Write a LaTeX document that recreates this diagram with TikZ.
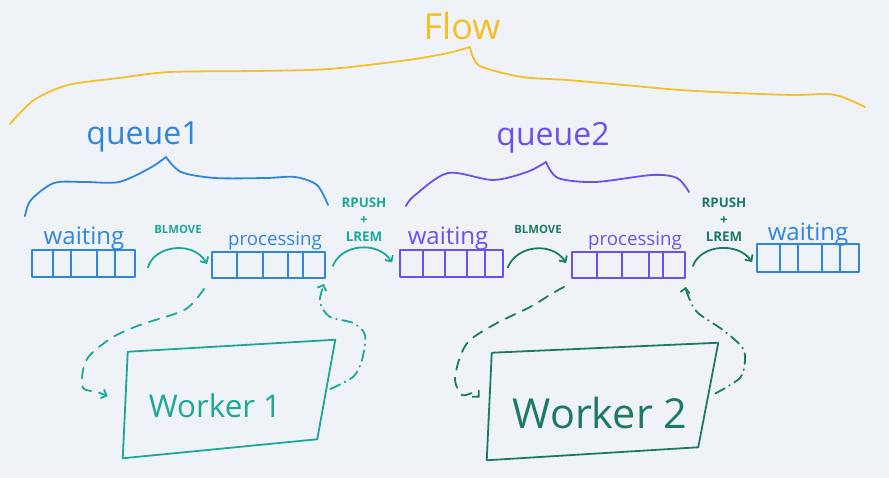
\documentclass[tikz,border=0pt]{standalone}
\usepackage{fontspec}
\setmainfont{Open Sans}
\usetikzlibrary{arrows.meta,calc,fit}
\definecolor{bg}{HTML}{EFF3F7}
\definecolor{flowyellow}{HTML}{F5BF2A}
\definecolor{qblue}{HTML}{2E86DE}
\definecolor{qpurple}{HTML}{6A50EE}
\definecolor{wteal}{HTML}{1CA896}
\definecolor{wgreen}{HTML}{1D7A62}
\tikzset{
  hand/.style={line width=1.35pt},
  qbox/.style={draw, line width=1.35pt, inner sep=0pt},
  arr/.style={line width=1.35pt, -{Straight Barb[length=3.5pt,width=7pt]}},
  dasharr/.style={arr, dash pattern=on 8pt off 6pt},
  dotdasharr/.style={arr, dash pattern=on 8pt off 4pt on 0.6pt off 4pt},
  cmd/.style={font=\fontsize{8.5}{10}\selectfont\bfseries, inner sep=0pt},
  cmd2/.style={font=\fontsize{10}{12.75}\selectfont\bfseries, align=center, inner sep=0pt},
  boxlbl/.style={font=\fontsize{18}{20}\selectfont, inner sep=0pt},
  proclbl/.style={font=\fontsize{14}{16}\selectfont, inner sep=0pt},
  qlbl/.style={font=\fontsize{24}{26}\selectfont, inner sep=0pt},
}
\begin{document}
\begin{tikzpicture}[x=0.75pt, y=-0.75pt, line cap=round, line join=round]
\fill[bg] (0,0) rectangle (889,478);
\useasboundingbox (0,0) rectangle (889,478);

% ---- Flow brace ----
\node[text=flowyellow, font=\fontsize{27}{30}\selectfont, inner sep=0pt] (flow) at (462,26) {Flow};
\draw[flowyellow, hand] plot[smooth] coordinates {(10,124) (34,100) (68,85) (119,78) (170,72) (255,71) (329,69) (408,60) (448,53) (470,47)};
\draw[flowyellow, hand] plot[smooth] coordinates {(470,47) (473,57) (482,67) (522,77) (567,80) (624,85) (680,90) (737,93) (794,95) (828,94) (845,98) (865,107)};

% ---- queue1 brace ----
\node[qlbl, text=qblue] (q1) at (143,137) {queue1};
\draw[qblue, hand] plot[smooth] coordinates {(25,216) (31,200) (54,183) (85,182) (119,182) (150,168) (166,157)};
\draw[qblue, hand] plot[smooth] coordinates {(166,157) (181,172) (215,178) (266,178) (295,177) (317,185) (328,205)};

% ---- queue2 brace ----
\node[qlbl, text=qpurple] (q2) at (553,138) {queue2};
\draw[qpurple, hand] plot[smooth] coordinates {(406,206) (414,196) (448,173) (493,180) (527,172) (546,162)};
\draw[qpurple, hand] plot[smooth] coordinates {(546,162) (558,178) (595,182) (652,175) (677,178) (689,192)};

% ---- queue boxes ----
\node[qbox, draw=qblue, fit={(32,250)(135,277)}] (w1) {};
\foreach \x in {53,71,97,115} \draw[qblue, hand] (\x,250) -- (\x,277);
\node[boxlbl, text=qblue] (w1t) at (84,239) {waiting};

\node[qbox, draw=qblue, fit={(212,252)(325,278)}] (p1) {};
\foreach \x in {237,263,288,303} \draw[qblue, hand] (\x,252) -- (\x,278);
\node[proclbl, text=qblue] (p1t) at (275,241) {processing};

\node[qbox, draw=qpurple, fit={(400,250)(503,277)}] (w2) {};
\foreach \x in {423,445,467,485} \draw[qpurple, hand] (\x,250) -- (\x,277);
\node[boxlbl, text=qpurple] (w2t) at (448,239) {waiting};

\node[qbox, draw=qpurple, fit={(572,252)(685,278)}] (p2) {};
\foreach \x in {597,622,649,663} \draw[qpurple, hand] (\x,252) -- (\x,278);
\node[proclbl, text=qpurple] (p2t) at (635,241) {processing};

\node[qbox, draw=qblue, fit={(757,244)(859,272)}] (w3) {};
\foreach \x in {780,798,822,840} \draw[qblue, hand] (\x,244) -- (\x,272);
\node[boxlbl, text=qblue] (w3t) at (808,235) {waiting};

% ---- command arrows ----
\node[cmd, text=wteal] (bl1) at (178,229) {BLMOVE};
\draw[arr, wteal] ($(w1.east)+(12,4)$) .. controls +(6,-22) and +(-14,-24) .. ($(p1.west)+(-4,-1)$);
\node[cmd2, text=wteal] (rp1) at (364,220) {RPUSH\\+\\LREM};
\draw[arr, wteal] ($(p1.east)+(7,1)$) .. controls +(8,-22) and +(-14,-22) .. ($(w2.west)+(-7,-1)$);

\node[cmd, text=wgreen] (bl2) at (538,229) {BLMOVE};
\draw[arr, wgreen] ($(w2.east)+(4,4)$) .. controls +(8,-22) and +(-14,-22) .. ($(p2.west)+(-5,-2)$);
\node[cmd2, text=wgreen] (rp2) at (724,220) {RPUSH\\+\\LREM};
\draw[arr, wgreen] ($(p2.east)+(7,1)$) .. controls +(8,-22) and +(-14,-20) .. ($(w3.west)+(-4,4)$);

% ---- Worker 1 ----
\node[minimum width=159pt, minimum height=90pt, inner sep=0pt] (wk1) at (229,400) {};
\draw[wteal, hand] ($(wk1.north west)+(5,12)$) -- (wk1.north east) -- ($(wk1.south east)+(-18,-21)$) -- ($(wk1.south west)+(0,-2)$) -- cycle;
\node[text=wteal, font=\fontsize{23.5}{26}\selectfont, inner sep=0pt] (wk1t) at (215,406) {Worker 1};
\draw[dasharr, wteal] plot[smooth] coordinates {($(p1.south west)+(-7,10)$) (193,303) (180,312) (140,325) (113,337) (90,355) (83,370) (83,388) (97,392) ($(wk1.west)+(-15,-4)$)};
\draw[dotdasharr, wteal] plot[smooth] coordinates {($(wk1.east)+(-5,-11)$) (353,377) (362,360) (365,335) (353,323) (330,317) (320,303) (322,290) ($(p1.south east)+(-2,5)$)};

% ---- Worker 2 ----
\node[minimum width=173.25pt, minimum height=87.75pt, inner sep=0pt] (wk2) at (602.5,401.5) {};
\draw[wgreen, hand] ($(wk2.north west)+(5,10)$) -- (wk2.north east) -- ($(wk2.south east)+(-20,-13)$) -- (wk2.south west) -- cycle;
\node[text=wgreen, font=\fontsize{31}{34}\selectfont, inner sep=0pt] (wk2t) at (600,413) {Worker 2};
\draw[dasharr, wgreen] plot[smooth] coordinates {($(p2.south west)+(-7,8)$) (553,293) (530,307) (497,323) (470,340) (460,357) (455,380) (462,395) (473,393) ($(wk2.west)+(-7,-4)$)};
\draw[dotdasharr, wgreen] plot[smooth] coordinates {($(wk2.east)+(-3,-8)$) (740,378) (745,360) (742,347) (723,330) (697,312) (687,293) ($(p2.south east)+(0,8)$)};
\end{tikzpicture}
\end{document}
